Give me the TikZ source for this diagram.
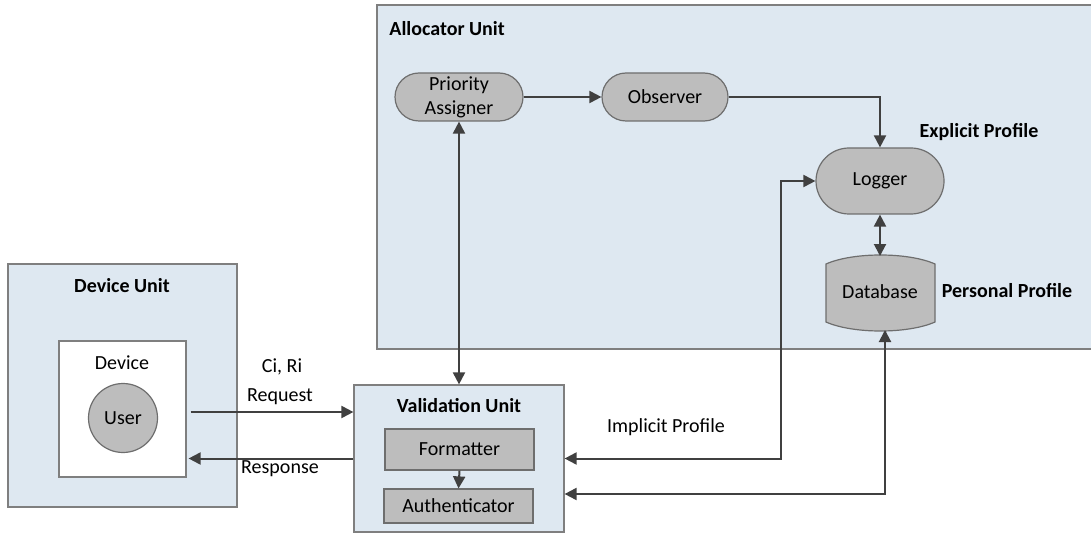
\documentclass[tikz,border=0pt]{standalone}
\usepackage{fontspec}
\setmainfont{Carlito}
\usetikzlibrary{shapes.misc,arrows.meta,calc}
\definecolor{unitfill}{HTML}{DEE8F1}
\definecolor{unitline}{HTML}{7F7F7F}
\definecolor{procfill}{HTML}{BDBDBD}
\definecolor{procline}{HTML}{6E6E6E}
\definecolor{wire}{HTML}{404040}
\tikzset{
  unit/.style={draw=unitline, line width=0.6pt, fill=unitfill},
  proc/.style={rounded rectangle, draw=procline, line width=0.6pt, fill=procfill,
               inner sep=0pt, minimum height=24pt, align=center,
               font=\fontsize{10}{13}\selectfont},
  block/.style={rectangle, draw=procline, line width=0.6pt, fill=procfill,
                inner sep=0pt, minimum width=74.5pt, font=\fontsize{10}{12}\selectfont},
  lbl/.style={font=\fontsize{10}{12}\selectfont, inner sep=0pt},
  blbl/.style={font=\fontsize{10}{12}\selectfont\bfseries, inner sep=0pt},
  tip/.tip={Triangle[length=6pt,width=6pt]},
  arr/.style={draw=wire, line width=1pt, -tip},
  arrb/.style={draw=wire, line width=1pt, tip-tip},
}
\begin{document}
\begin{tikzpicture}[x=0.5pt,y=-0.5pt]
\useasboundingbox (0,0) rectangle (1091,534);

% Allocator unit (runs off the right edge)
\fill[unitfill] (377,5) rectangle (1091,349);
\draw[unitline, line width=0.6pt] (1091,5) -- (377,5) -- (377,349) -- (1091,349);
\node[blbl, anchor=west] (alloclbl) at (389,29) {Allocator Unit};

\node[proc, minimum width=64pt] (pa) at (459,97) {Priority\\[-1pt]Assigner};
\node[proc, minimum width=63pt] (obs) at (665,97) {Observer};
\node[proc, minimum width=64pt, minimum height=33pt] (logger) at (880,181) {Logger};
\node[blbl] (explbl) at (979,132) {Explicit Profile};

% Database barrel
\filldraw[fill=procfill, draw=procline, line width=0.6pt]
  (826,264) .. controls (853,252) and (908,252) .. (935,264)
  -- (935,322) .. controls (908,334) and (853,334) .. (826,322) -- cycle;
\node[lbl] (db) at (880,292) {Database};
\coordinate (dbtop) at (880,256);
\coordinate (dbbot) at (885,330);
\node[blbl] (perslbl) at (1007,291) {Personal Profile};

% Device unit
\node[unit, rectangle, minimum width=114.5pt, minimum height=121.5pt, inner sep=0pt]
  (devunit) at (122.5,385.5) {};
\node[blbl] (devunitlbl) at (122,286) {Device Unit};
\node[rectangle, draw=unitline, line width=0.6pt, fill=white, minimum width=63.5pt,
      minimum height=68pt, inner sep=0pt] (dev) at (122.5,409) {};
\node[lbl] (devlbl) at (122,363) {Device};
\node[circle, draw=procline, line width=0.6pt, fill=procfill, minimum size=34.5pt,
      inner sep=0pt, font=\fontsize{10}{12}\selectfont] (user) at (123,418) {User};

% Validation unit
\node[unit, rectangle, minimum width=105pt, minimum height=73.5pt, inner sep=0pt]
  (val) at (459,458.5) {};
\node[blbl] (vallbl) at (459,406) {Validation Unit};
\node[block, minimum height=20.5pt] (fmt) at (459.5,449.5) {Formatter};
\node[block, minimum height=17pt] (auth) at (458.5,506) {Authenticator};

% Labels on the links
\node[lbl] (cilbl) at (282,367) {Ci, Ri};
\node[lbl] (reqlbl) at (280,397) {Request};
\node[lbl] (reslbl) at (280,469) {Response};
\node[lbl] (implbl) at (666,427) {Implicit Profile};

% Links
\draw[arr] (pa.east) -- (obs.west);
\draw[arr] (obs.east) -| (logger.north);
\draw[arrb] (pa.south) -- (pa.south |- val.north);
\draw[arrb] (logger.south) -- (dbtop);
\draw[arr] ([xshift=2pt,yshift=-1.5pt]dev.east) -- ([yshift=-1.5pt]dev.east -| val.west);
\draw[arr] (val.west) -- ([xshift=1pt]val.west -| dev.east);
\draw[arr] (fmt.south) -- (auth.north);
\coordinate (lx) at (781,181);
\draw[arrb] (val.east) -- (val.east -| lx) |- (logger.west);
\draw[arrb] ([yshift=-17.75pt]val.east) -| (dbbot);
\end{tikzpicture}
\end{document}
